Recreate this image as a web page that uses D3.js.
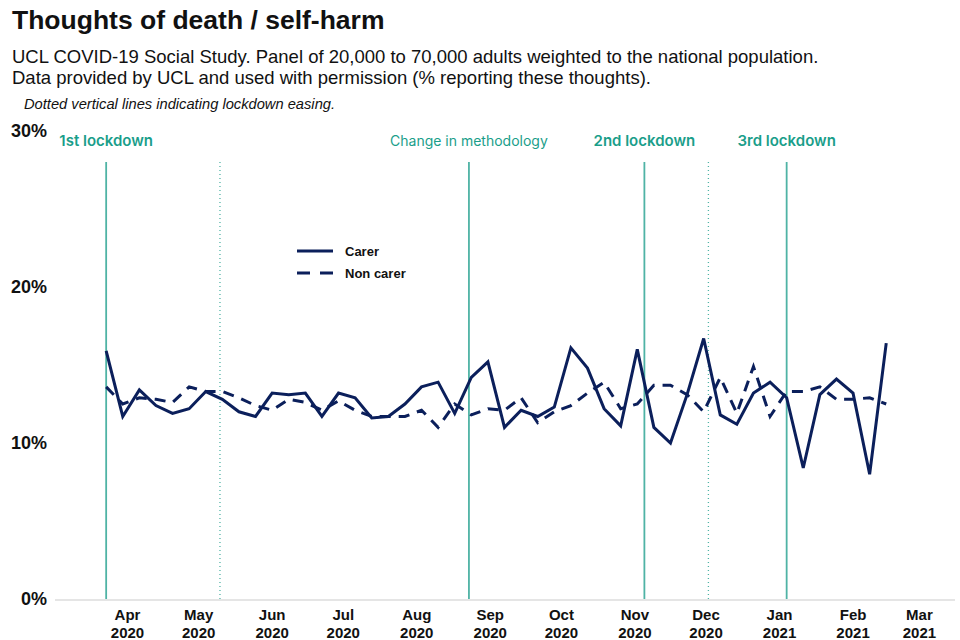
<!DOCTYPE html>
<meta charset="utf-8">
<style>
body { margin: 0; background: #fff; }
text { font-family: "Liberation Sans", Arial, sans-serif; }
.title { font-size: 26.5px; font-weight: bold; fill: #111; }
.sub { font-size: 18.5px; fill: #111; }
.note { font-size: 14.7px; font-style: italic; fill: #111; }
.ytick { font-size: 18px; font-weight: bold; fill: #111; }
.xtick { font-size: 15px; font-weight: bold; fill: #111; }
.event { font-family: Inter, "Open Sans", sans-serif; font-size: 14px; fill: #1a9e8a; }
.legend { font-size: 13px; font-weight: bold; fill: #111; }
.series { fill: none; stroke: #0b1f5b; stroke-width: 3px; stroke-linejoin: miter; }
</style>
<body>
<script src="https://cdn.jsdelivr.net/npm/d3@7"></script>
<script>

// weekly survey dates (week starting)
var weeks = ["2020-03-23","2020-03-30","2020-04-06","2020-04-13","2020-04-20","2020-04-27",
             "2020-05-04","2020-05-11","2020-05-18","2020-05-25","2020-06-01","2020-06-08",
             "2020-06-15","2020-06-22","2020-06-29","2020-07-06","2020-07-13","2020-07-20",
             "2020-07-27","2020-08-03","2020-08-10","2020-08-17","2020-08-24","2020-08-31",
             "2020-09-07","2020-09-14","2020-09-21","2020-09-28","2020-10-05","2020-10-12",
             "2020-10-19","2020-10-26","2020-11-02","2020-11-09","2020-11-16","2020-11-23",
             "2020-11-30","2020-12-07","2020-12-14","2020-12-21","2020-12-28","2021-01-04",
             "2021-01-11","2021-01-18","2021-01-25","2021-02-01","2021-02-08","2021-02-15"];

// % reporting thoughts of death / self-harm
var carer = [15.9,11.7,13.4,12.4,11.9,12.2,13.3,12.8,12.0,11.7,
             13.2,13.1,13.2,11.7,13.2,12.9,11.6,11.7,12.5,13.6,
             13.9,11.9,14.2,15.2,11.0,12.1,11.7,12.3,16.1,14.8,
             12.2,11.1,16.0,11.0,10.0,13.1,16.7,11.8,11.2,13.2,
             13.9,12.9,8.4,13.1,14.1,13.2,8.0,16.4];

var nonCarer = [13.6,12.5,12.9,12.8,12.6,13.6,13.3,13.3,12.9,12.4,
                12.1,12.8,12.6,12.1,12.7,12.1,11.7,11.7,11.7,12.1,
                11.0,12.5,11.8,12.2,12.1,12.9,11.3,12.0,12.4,13.2,
                13.9,12.2,12.5,13.7,13.7,13.1,12.0,14.2,11.9,14.9,
                11.7,13.3,13.3,13.6,12.8,12.8,12.9,12.5];

// lockdown events
var eventDates  = ["2020-03-23","2020-05-10","2020-08-23","2020-11-05","2020-12-02","2021-01-04"];
var eventLabels = ["1st lockdown","","Change in methodology","2nd lockdown","","3rd lockdown"];
var eventDotted = [false,true,false,false,true,false];

var yTicks = [0,10,20,30];
var monthTicks = ["2020-04-01","2020-05-01","2020-06-01","2020-07-01","2020-08-01","2020-09-01",
                  "2020-10-01","2020-11-01","2020-12-01","2021-01-01","2021-02-01","2021-03-01"];

var parse = d3.timeParse("%Y-%m-%d");

var width = 960,
    height = 640;

var svg = d3.select("body").append("svg")
    .attr("width", width)
    .attr("height", height);

var x = d3.scaleTime()
    .domain([parse("2020-03-01"), parse("2021-03-16")])
    .range([54, 955]);

var y = d3.scaleLinear()
    .domain([0, 30])
    .range([599, 131]);

// titles
svg.append("text").attr("class", "title").attr("x", 12).attr("y", 29)
    .text("Thoughts of death / self-harm");
svg.append("text").attr("class", "sub").attr("x", 12).attr("y", 63)
    .text("UCL COVID-19 Social Study. Panel of 20,000 to 70,000 adults weighted to the national population.");
svg.append("text").attr("class", "sub").attr("x", 12).attr("y", 84)
    .text("Data provided by UCL and used with permission (% reporting these thoughts).");
svg.append("text").attr("class", "note").attr("x", 24).attr("y", 109)
    .text("Dotted vertical lines indicating lockdown easing.");

// baseline
svg.append("line")
    .attr("x1", 55).attr("x2", 955)
    .attr("y1", y(0) + 1).attr("y2", y(0) + 1)
    .attr("stroke", "#dcdcdc").attr("stroke-width", 1.5);

// y axis labels
svg.append("g").selectAll("text")
    .data(yTicks)
  .enter().append("text")
    .attr("class", "ytick")
    .attr("x", 47)
    .attr("y", function(d) { return y(d); })
    .attr("dy", "0.35em")
    .attr("text-anchor", "end")
    .text(function(d) { return d + "%"; });

// x axis labels
var xt = svg.append("g").selectAll("text")
    .data(monthTicks.map(parse))
  .enter().append("text")
    .attr("class", "xtick")
    .attr("text-anchor", "middle")
    .attr("transform", function(d) { return "translate(" + x(d) + ",0)"; });
xt.append("tspan").attr("x", 0).attr("y", 620).text(d3.timeFormat("%b"));
xt.append("tspan").attr("x", 0).attr("y", 638).text(d3.timeFormat("%Y"));

// event lines
var events = eventDates.map(function(d, i) {
  return {date: parse(d), label: eventLabels[i], dotted: eventDotted[i]};
});

svg.append("g").selectAll("line")
    .data(events)
  .enter().append("line")
    .attr("x1", function(d) { return x(d.date); })
    .attr("x2", function(d) { return x(d.date); })
    .attr("y1", 162)
    .attr("y2", y(0))
    .attr("stroke", "#4fb3a5")
    .attr("stroke-width", function(d) { return d.dotted ? 1.3 : 1.8; })
    .attr("stroke-dasharray", function(d) { return d.dotted ? "1,3" : null; });

svg.append("g").selectAll("text")
    .data(events.filter(function(d) { return d.label; }))
  .enter().append("text")
    .attr("class", "event")
    .attr("x", function(d) { return x(d.date); })
    .attr("y", 146)
    .attr("text-anchor", "middle")
    .style("font-size", function(d) { return d.label.indexOf("lockdown") >= 0 ? "15px" : null; })
    .style("font-weight", function(d) { return d.label.indexOf("lockdown") >= 0 ? 600 : 400; })
    .text(function(d) { return d.label; });

// series
var line = d3.line()
    .x(function(d) { return x(d.date); })
    .y(function(d) { return y(d.value); });

function toPoints(values) {
  return values.map(function(v, i) { return {date: parse(weeks[i]), value: v}; });
}

svg.append("path")
    .attr("class", "series")
    .attr("d", line(toPoints(nonCarer)))
    .attr("stroke-dasharray", "11,8");

svg.append("path")
    .attr("class", "series")
    .attr("d", line(toPoints(carer)));

// legend
var legend = svg.append("g").attr("transform", "translate(297,251)");
legend.append("line").attr("x1", 0).attr("x2", 36).attr("y1", 0).attr("y2", 0)
    .attr("stroke", "#0b1f5b").attr("stroke-width", 3);
legend.append("text").attr("class", "legend").attr("x", 48).attr("y", 5).text("Carer");
legend.append("line").attr("x1", 0).attr("x2", 36).attr("y1", 22).attr("y2", 22)
    .attr("stroke", "#0b1f5b").attr("stroke-width", 3).attr("stroke-dasharray", "13,10");
legend.append("text").attr("class", "legend").attr("x", 48).attr("y", 27).text("Non carer");

</script>
